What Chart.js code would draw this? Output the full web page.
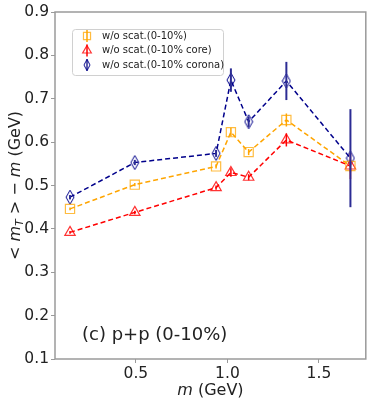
<!DOCTYPE html>
<html>
<head>
<meta charset="utf-8">
<script src="https://cdn.jsdelivr.net/npm/chart.js@4/dist/chart.umd.min.js"></script>
<style>
	html, body { margin: 0; padding: 0; background: #fff; }
	#wrap { width: 374px; height: 405px; }
</style>
</head>
<body>
<div id="wrap"><canvas id="chart" width="374" height="405"></canvas></div>
<script>
// hadron masses (GeV): pi, K, p, phi, Lambda, Xi, Omega
var masses = [0.140, 0.494, 0.938, 1.019, 1.116, 1.322, 1.672];

var allVals = [0.446, 0.502, 0.544, 0.623, 0.577, 0.651, 0.545];
var allErr = [0.003, 0.004, 0.005, 0.010, 0.007, 0.015, 0.015];

var coreVals = [0.392, 0.438, 0.495, 0.530, 0.519, 0.605, 0.545];
var coreErr = [0.003, 0.004, 0.005, 0.010, 0.007, 0.015, 0.030];

var coronaVals = [0.473, 0.553, 0.574, 0.743, 0.647, 0.741, 0.563];
var coronaErr = [0.005, 0.006, 0.008, 0.027, 0.012, 0.044, 0.113];

var labels = ['w/o scat.(0-10%)', 'w/o scat.(0-10% core)', 'w/o scat.(0-10% corona)'];
var yTicks = [0.1, 0.2, 0.3, 0.4, 0.5, 0.6, 0.7, 0.8, 0.9];
var xTicks = [0.5, 1.0, 1.5];

var FONT = "'DejaVu Sans', sans-serif";

// thin diamond like matplotlib 'd'
function thinDiamond(w, h, color){
	var c = document.createElement('canvas');
	c.width = w + 2; c.height = h + 2;
	var g = c.getContext('2d');
	g.strokeStyle = color;
	g.lineWidth = 1;
	g.beginPath();
	g.moveTo(c.width / 2, 1);
	g.lineTo(c.width - 1, c.height / 2);
	g.lineTo(c.width / 2, c.height - 1);
	g.lineTo(1, c.height / 2);
	g.closePath();
	g.stroke();
	return c;
}

function pts(vals){
	return vals.map(function(v, i){ return {x: masses[i], y: v}; });
}

var ORANGE = '#ffa500';
var RED = '#ff0000';
var BLUE = '#00008b';

var errorBars = {
	id: 'errorBars',
	afterDatasetsDraw: function(chart){
		var ctx = chart.ctx;
		var xs = chart.scales.x, ys = chart.scales.y;
		chart.data.datasets.forEach(function(ds){
			if(!ds.errors) return;
			ctx.save();
			ctx.strokeStyle = ds.errColor;
			ctx.lineWidth = ds.errWidth;
			ds.data.forEach(function(p, i){
				var e = ds.errors[i];
				var px = xs.getPixelForValue(p.x);
				ctx.beginPath();
				ctx.moveTo(px, ys.getPixelForValue(p.y - e));
				ctx.lineTo(px, ys.getPixelForValue(p.y + e));
				ctx.stroke();
			});
			ctx.restore();
		});
	}
};

var frameAndText = {
	id: 'frameAndText',
	afterDraw: function(chart){
		var ctx = chart.ctx;
		var a = chart.chartArea;
		ctx.save();
		// frame
		ctx.strokeStyle = '#9a9a9a';
		ctx.lineWidth = 1.5;
		ctx.strokeRect(a.left, a.top, a.right - a.left, a.bottom - a.top);

		// panel label
		ctx.fillStyle = '#222';
		ctx.font = '18px ' + FONT;
		ctx.textBaseline = 'middle';
		ctx.textAlign = 'left';
		ctx.fillText('(c) p+p (0-10%)', 82, 335);

		// x title
		var t1 = 'm', t2 = ' (GeV)';
		ctx.font = 'italic 16px ' + FONT;
		var w1 = ctx.measureText(t1).width;
		ctx.font = '16px ' + FONT;
		var w2 = ctx.measureText(t2).width;
		var cx = (a.left + a.right) / 2 - (w1 + w2) / 2;
		ctx.font = 'italic 16px ' + FONT;
		ctx.fillText(t1, cx, 391);
		ctx.font = '16px ' + FONT;
		ctx.fillText(t2, cx + w1, 391);

		// y title: < m_T > − m (GeV)
		ctx.translate(16, (a.top + a.bottom) / 2);
		ctx.rotate(-Math.PI / 2);
		var parts = [
			['< ', '16px', 0],
			['m', 'italic 16px', 0],
			['T', 'italic 11px', 4],
			[' > \u2212 ', '16px', 0],
			['m', 'italic 16px', 0],
			[' (GeV)', '16px', 0]
		];
		var total = 0;
		parts.forEach(function(p){ ctx.font = p[1] + ' ' + FONT; total += ctx.measureText(p[0]).width; });
		var x = -total / 2;
		parts.forEach(function(p){
			ctx.font = p[1] + ' ' + FONT;
			ctx.fillText(p[0], x, p[2]);
			x += ctx.measureText(p[0]).width;
		});
		ctx.restore();

		// legend
		ctx.save();
		var lx = 72, ly = 29, lw = 151, lh = 46;
		ctx.fillStyle = 'rgba(255,255,255,0.9)';
		ctx.strokeStyle = '#d0d0d0';
		ctx.lineWidth = 1;
		ctx.beginPath();
		ctx.roundRect(lx + 0.5, ly + 0.5, lw, lh, 3);
		ctx.fill();
		ctx.stroke();
		ctx.font = '10px ' + FONT;
		ctx.textBaseline = 'middle';
		var rows = [36, 50.5, 65];
		chart.data.datasets.forEach(function(ds, i){
			var my = rows[i], mx = 87;
			ctx.strokeStyle = ds.errColor;
			ctx.lineWidth = 1.5;
			ctx.beginPath();
			ctx.moveTo(mx, my - 6);
			ctx.lineTo(mx, my + 6);
			ctx.stroke();
			ctx.strokeStyle = ds.pointBorderColor;
			ctx.fillStyle = 'rgba(0,0,0,0)';
			ctx.lineWidth = 1.2;
			Chart.helpers.drawPoint(ctx, {
				pointStyle: ds.legendStyle || ds.pointStyle,
				radius: ds.legendRadius,
				borderWidth: 1.2,
				rotation: 0
			}, mx, my);
			ctx.fillStyle = '#222';
			ctx.fillText(ds.label, 102, my);
		});
		ctx.restore();
	}
};

var datasets = [
	{
		label: labels[0], data: pts(allVals), errors: allErr,
		borderColor: ORANGE, errColor: ORANGE, errWidth: 1.5,
		pointStyle: 'rect', pointRadius: 6.5, legendRadius: 5,
		pointBorderColor: 'rgba(255,165,0,0.75)'
	},
	{
		label: labels[1], data: pts(coreVals), errors: coreErr,
		borderColor: RED, errColor: RED, errWidth: 1.5,
		pointStyle: 'triangle', pointRadius: 6, legendRadius: 5,
		pointBorderColor: 'rgba(255,0,0,0.8)'
	},
	{
		label: labels[2], data: pts(coronaVals), errors: coronaErr,
		borderColor: BLUE, errColor: '#2c2c94', errWidth: 2,
		pointStyle: thinDiamond(8, 14, BLUE), legendStyle: thinDiamond(6, 11, BLUE),
		pointRadius: 7, legendRadius: 5,
		pointBorderColor: BLUE
	}
];
datasets.forEach(function(d){
	d.showLine = true;
	d.borderDash = [5, 3];
	d.borderWidth = 1.5;
	d.backgroundColor = 'transparent';
	d.pointBackgroundColor = 'transparent';
	d.pointBorderWidth = 1.2;
	d.pointHoverRadius = d.pointRadius;
});

new Chart(document.getElementById('chart'), {
	type: 'scatter',
	data: { datasets: datasets },
	options: {
		responsive: false,
		animation: false,
		layout: { padding: { top: 12, right: 5, left: 0, bottom: 0 } },
		plugins: { legend: { display: false }, tooltip: { enabled: false } },
		scales: {
			x: {
				type: 'linear', min: 0.058, max: 1.756,
				afterBuildTicks: function(s){ s.ticks = xTicks.map(function(v){ return {value: v}; }); },
				afterFit: function(s){ s.height = 46; },
				border: { display: false },
				grid: { drawOnChartArea: false, drawTicks: true, tickLength: 4, color: '#9a9a9a', lineWidth: 1 },
				ticks: {
					color: '#222', padding: 2, maxRotation: 0,
					font: { family: FONT, size: 15.5 },
					callback: function(v){ return v.toFixed(1); }
				}
			},
			y: {
				min: 0.1, max: 0.9,
				afterBuildTicks: function(s){ s.ticks = yTicks.map(function(v){ return {value: v}; }); },
				afterFit: function(s){ s.width = 55; },
				border: { display: false },
				grid: { drawOnChartArea: false, drawTicks: true, tickLength: 4, color: '#9a9a9a', lineWidth: 1 },
				ticks: {
					color: '#222', padding: 2,
					font: { family: FONT, size: 15.5 },
					callback: function(v){ return v.toFixed(1); }
				}
			}
		}
	},
	plugins: [errorBars, frameAndText]
});
</script>
</body>
</html>
